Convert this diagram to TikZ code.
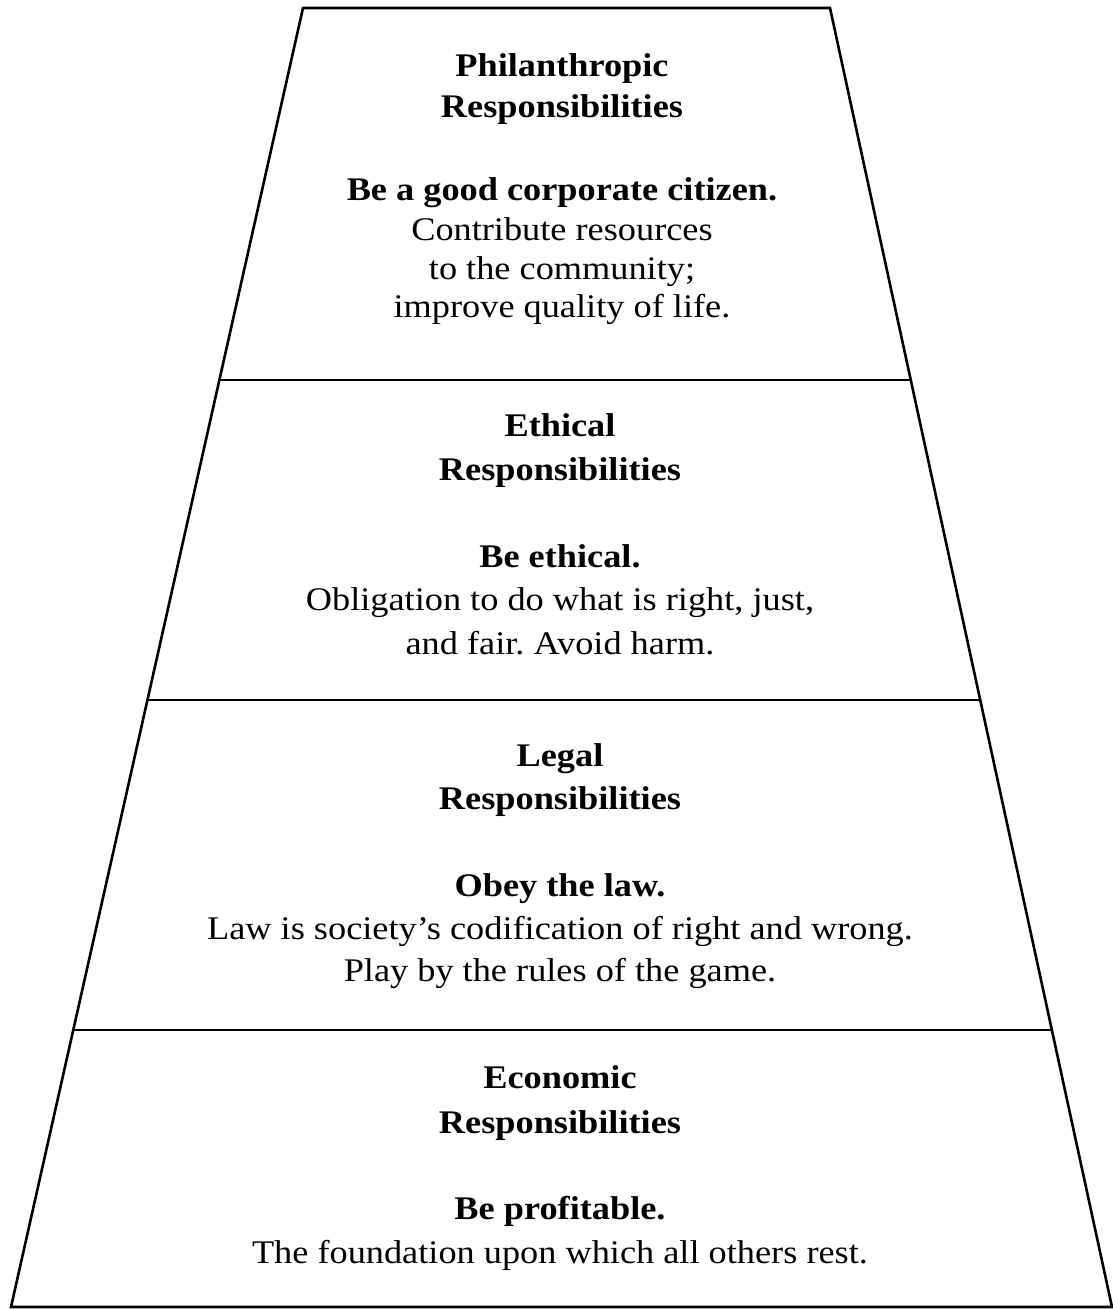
\documentclass[tikz,border=0pt]{standalone}
\usepackage{fontspec}
\setmainfont[FakeStretch=1.1]{Liberation Serif}
\begin{document}
\frenchspacing
\begin{tikzpicture}[x=1pt,y=-1pt,
  edge/.style={line width=2.6pt,line join=miter},
  divider/.style={line width=2.6pt},
  ttl/.style={anchor=base,inner sep=0pt,font=\fontsize{33}{36}\selectfont\bfseries},
  txt/.style={anchor=base,inner sep=0pt,font=\fontsize{33}{36}\selectfont}]
\useasboundingbox (0,0) rectangle (1112,1309);
% outline corners
\coordinate (tl) at (303,8);
\coordinate (tr) at (830,8);
\coordinate (bl) at (11,1307);
\coordinate (br) at (1112,1307);
\coordinate (l1) at (219.4,380);
\coordinate (r1) at (910.8,380);
\coordinate (l2) at (147.4,700);
\coordinate (r2) at (980.3,700);
\coordinate (l3) at (73.3,1030);
\coordinate (r3) at (1052.0,1030);
\draw[edge] (tl) -- (tr) -- (br) -- (bl) -- cycle;
\draw[divider] (l1) -- (r1);
\draw[divider] (l2) -- (r2);
\draw[divider] (l3) -- (r3);
% Philanthropic
\node[ttl] (p1) at (562,76) {Philanthropic};
\node[ttl] (p2) at (562,117) {Responsibilities};
\node[ttl] (p3) at (562,200) {Be a good corporate citizen.};
\node[txt] (p4) at (562,240) {Contribute resources};
\node[txt] (p5) at (562,279) {to the community;};
\node[txt] (p6) at (562,317) {improve quality of life.};
% Ethical
\node[ttl] (e1) at (560,436) {Ethical};
\node[ttl] (e2) at (560,480) {Responsibilities};
\node[ttl] (e3) at (560,567) {Be ethical.};
\node[txt] (e4) at (560,610) {Obligation to do what is right, just,};
\node[txt] (e5) at (560,654) {and fair. Avoid harm.};
% Legal
\node[ttl] (g1) at (560,766) {Legal};
\node[ttl] (g2) at (560,809) {Responsibilities};
\node[ttl] (g3) at (560,896) {Obey the law.};
\node[txt] (g4) at (560,939) {Law is society's codification of right and wrong.};
\node[txt] (g5) at (560,981) {Play by the rules of the game.};
% Economic
\node[ttl] (c1) at (560,1088) {Economic};
\node[ttl] (c2) at (560,1133) {Responsibilities};
\node[ttl] (c3) at (560,1219) {Be profitable.};
\node[txt] (c4) at (560,1263) {The foundation upon which all others rest.};
\end{tikzpicture}
\end{document}
